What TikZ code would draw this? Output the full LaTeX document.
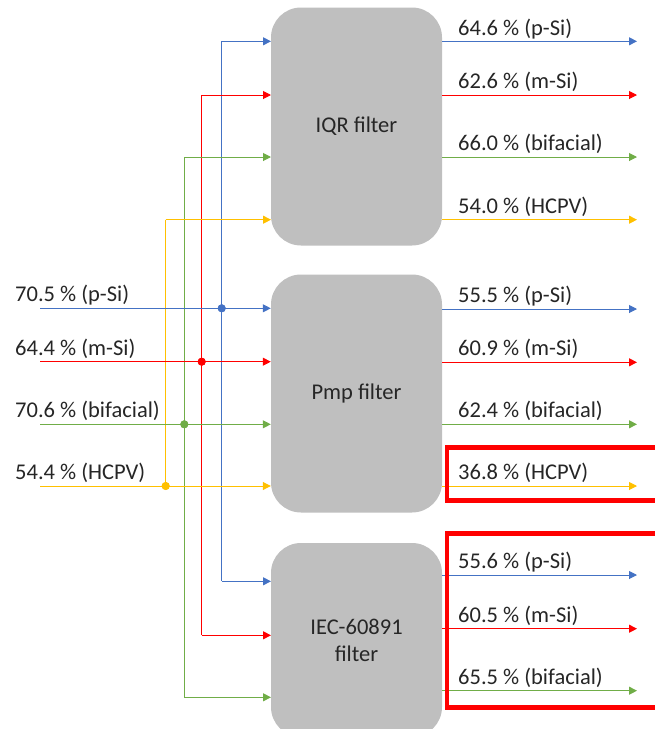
\documentclass[tikz,border=0pt]{standalone}
\usepackage{fontspec}
\setmainfont{Carlito}
\usetikzlibrary{positioning,arrows.meta}

\definecolor{psi}{RGB}{68,114,196}
\definecolor{msi}{RGB}{255,0,0}
\definecolor{bif}{RGB}{112,173,71}
\definecolor{hcpv}{RGB}{255,192,0}
\definecolor{boxgray}{RGB}{191,191,191}

\tikzset{
	filterbox/.style={fill=boxgray, rounded corners=30pt, minimum width=171pt, minimum height=238pt, align=center, text=black!85, font=\fontsize{22.5}{27}\selectfont},
	lbl/.style={anchor=base west, inner sep=0pt, text=black!85, font=\fontsize{22.5}{26}\selectfont},
	flow/.style={line width=1pt, -{Triangle[length=8pt,width=8pt]}},
	wire/.style={line width=1pt},
	joint/.style={circle, fill, inner sep=0pt, minimum size=8pt},
	hilite/.style={draw=red, line width=4.5pt}
}

\begin{document}
\begin{tikzpicture}[x=1pt, y=-1pt]
	\useasboundingbox (0,0) rectangle (654,729);

	% filters
	\node[filterbox] (iqr) at (356.5,126.5) {IQR filter};
	\node[filterbox] (pmp) at (356.5,393.5) {Pmp filter};
	\node[filterbox, minimum height=194pt] (iec) at (356.5,640) {IEC-60891\\filter};

	% inputs
	\coordinate (in-p) at (40,308.3);
	\coordinate (in-m) at (40,361.7);
	\coordinate (in-b) at (40,424.3);
	\coordinate (in-h) at (40,486);
	\node[lbl] (lin-p) at (15,301.5) {70.5 \% (p-Si)};
	\node[lbl] (lin-m) at (15,355) {64.4 \% (m-Si)};
	\node[lbl] (lin-b) at (15,417.5) {70.6 \% (bifacial)};
	\node[lbl] (lin-h) at (15,479.3) {54.4 \% (HCPV)};

	\coordinate (iqr-p) at (271,41.3);
	\coordinate (iqr-m) at (271,95);
	\coordinate (iqr-b) at (271,157);
	\coordinate (iqr-h) at (271,219.7);
	\coordinate (iec-p) at (271,581.3);
	\coordinate (iec-m) at (271,635.3);
	\coordinate (iec-b) at (271,697.3);

	\node[joint, psi] (j-p) at (221.7,308.3) {};
	\node[joint, msi] (j-m) at (201.7,361.7) {};
	\node[joint, bif] (j-b) at (184.3,424.3) {};
	\node[joint, hcpv] (j-h) at (165.7,486) {};

	% risers
	\draw[wire, psi] (j-p |- iqr-p) -- (j-p |- iec-p);
	\draw[wire, msi] (j-m |- iqr-m) -- (j-m |- iec-m);
	\draw[wire, bif] (j-b |- iqr-b) -- (j-b |- iec-b);
	\draw[wire, hcpv] (j-h |- iqr-h) -- (j-h.center);

	\draw[flow, psi] (in-p) -- (pmp.west |- in-p);
	\draw[flow, msi] (in-m) -- (pmp.west |- in-m);
	\draw[flow, bif] (in-b) -- (pmp.west |- in-b);
	\draw[flow, hcpv] (in-h) -- (pmp.west |- in-h);

	\draw[flow, psi] (j-p |- iqr-p) -- (iqr-p);
	\draw[flow, psi] (j-p |- iec-p) -- (iec-p);
	\draw[flow, msi] (j-m |- iqr-m) -- (iqr-m);
	\draw[flow, msi] (j-m |- iec-m) -- (iec-m);
	\draw[flow, bif] (j-b |- iqr-b) -- (iqr-b);
	\draw[flow, bif] (j-b |- iec-b) -- (iec-b);
	\draw[flow, hcpv] (j-h |- iqr-h) -- (iqr-h);

	% redraw the dots on top
	\node[joint, psi] at (j-p) {};
	\node[joint, msi] at (j-m) {};
	\node[joint, bif] at (j-b) {};
	\node[joint, hcpv] at (j-h) {};

	% outputs
	\coordinate (o-iqr-p) at (637,41.3);
	\coordinate (o-iqr-m) at (637,95);
	\coordinate (o-iqr-b) at (637,157);
	\coordinate (o-iqr-h) at (637,219.7);
	\coordinate (o-pmp-p) at (637,309);
	\coordinate (o-pmp-m) at (637,362.3);
	\coordinate (o-pmp-b) at (637,424.3);
	\coordinate (o-pmp-h) at (637,486);
	\coordinate (o-iec-p) at (637,575);
	\coordinate (o-iec-m) at (637,628.7);
	\coordinate (o-iec-b) at (637,690.7);

	\draw[flow, psi] (iqr.east |- o-iqr-p) -- (o-iqr-p);
	\draw[flow, msi] (iqr.east |- o-iqr-m) -- (o-iqr-m);
	\draw[flow, bif] (iqr.east |- o-iqr-b) -- (o-iqr-b);
	\draw[flow, hcpv] (iqr.east |- o-iqr-h) -- (o-iqr-h);
	\draw[flow, psi] (pmp.east |- o-pmp-p) -- (o-pmp-p);
	\draw[flow, msi] (pmp.east |- o-pmp-m) -- (o-pmp-m);
	\draw[flow, bif] (pmp.east |- o-pmp-b) -- (o-pmp-b);
	\draw[flow, hcpv] (pmp.east |- o-pmp-h) -- (o-pmp-h);
	\draw[flow, psi] (iec.east |- o-iec-p) -- (o-iec-p);
	\draw[flow, msi] (iec.east |- o-iec-m) -- (o-iec-m);
	\draw[flow, bif] (iec.east |- o-iec-b) -- (o-iec-b);

	\node[lbl] (lo-iqr-p) at (458,35) {64.6 \% (p-Si)};
	\node[lbl] (lo-iqr-m) at (458,88.5) {62.6 \% (m-Si)};
	\node[lbl] (lo-iqr-b) at (458,150.5) {66.0 \% (bifacial)};
	\node[lbl] (lo-iqr-h) at (458,213) {54.0 \% (HCPV)};
	\node[lbl] (lo-pmp-p) at (458,302.5) {55.5 \% (p-Si)};
	\node[lbl] (lo-pmp-m) at (458,355.8) {60.9 \% (m-Si)};
	\node[lbl] (lo-pmp-b) at (458,417.8) {62.4 \% (bifacial)};
	\node[lbl] (lo-pmp-h) at (458,479.5) {36.8 \% (HCPV)};
	\node[lbl] (lo-iec-p) at (458,568.5) {55.6 \% (p-Si)};
	\node[lbl] (lo-iec-m) at (458,622.2) {60.5 \% (m-Si)};
	\node[lbl] (lo-iec-b) at (458,684.2) {65.5 \% (bifacial)};

	% highlighted results
	\draw[hilite] (447,447.5) rectangle (662,500.5);
	\draw[hilite] (447,533.5) rectangle (662,707.5);
\end{tikzpicture}
\end{document}
